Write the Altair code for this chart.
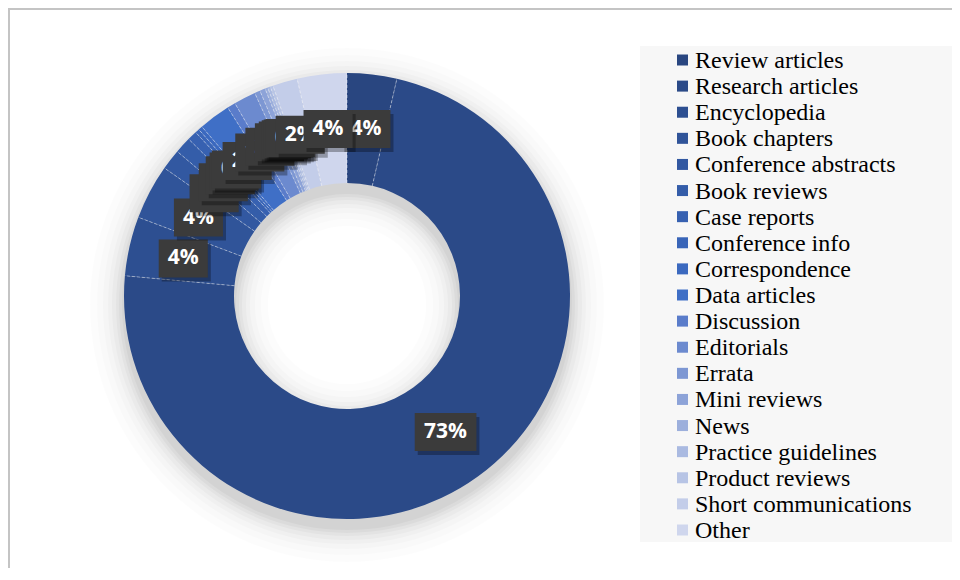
import altair as alt
import pandas as pd

categories = [
    "Review articles", "Research articles", "Encyclopedia", "Book chapters",
    "Conference abstracts", "Book reviews", "Case reports", "Conference info",
    "Correspondence", "Data articles", "Discussion", "Editorials", "Errata",
    "Mini reviews", "News", "Practice guidelines", "Product reviews",
    "Short communications", "Other",
]
shares = [3.6, 73.0, 4.3, 4.0, 1.5, 1.2, 0.7, 0.3, 0.3, 2.3, 0.6, 1.6, 0.4,
          0.4, 0.2, 0.2, 0.2, 1.8, 3.6]
colors = [
    "#294680", "#2b4a88", "#2d4f91", "#305499", "#3258a1", "#345da9",
    "#3761b1", "#3965b8", "#3b69bf", "#3f6fc6", "#5a7cca", "#6c8acf",
    "#7d97d3", "#8da3d8", "#9cafdc", "#aabae1", "#b7c4e5", "#c3cde9", "#cfd6ed",
]

W, H = 944, 560
CX, CY = 339, 288
R_OUT, R_IN, R_LAB = 223, 113, 168
TWO_PI = 6.283185307179586
SERIF = "Liberation Serif, Times New Roman, DejaVu Serif, serif"

df = pd.DataFrame({"idx": list(range(len(categories))),
                   "category": categories, "share": shares})
one = pd.DataFrame({"a": [0]})

color_scale = alt.Scale(domain=categories, range=colors)

geo = (
    alt.Chart(df)
    .transform_window(cum="sum(share)", sort=[alt.SortField("idx")], frame=[None, 0])
    .transform_joinaggregate(total="sum(share)")
    .transform_calculate(
        a0=f"(datum.cum - datum.share) / datum.total * {TWO_PI}",
        a1=f"datum.cum / datum.total * {TWO_PI}",
        pct="format(datum.share / datum.total, '.0%')",
    )
    .transform_calculate(am="(datum.a0 + datum.a1) / 2")
    .transform_calculate(
        lx=f"{CX} + {R_LAB} * sin(datum.am)",
        ly=f"{CY} - {R_LAB} * cos(datum.am)",
        bw="12.6 * (length(datum.pct) - 1) + 19.5 + 17",
        sx0=f"{CX} + {R_IN} * sin(datum.a0)",
        sy0=f"{CY} - {R_IN} * cos(datum.a0)",
        sx1=f"{CX} + {R_OUT} * sin(datum.a0)",
        sy1=f"{CY} - {R_OUT} * cos(datum.a0)",
    )
    .transform_calculate(
        bx0="datum.lx - datum.bw / 2",
        bx1="datum.lx + datum.bw / 2",
        by0="datum.ly - 19",
        by1="datum.ly + 19",
        qx0="datum.lx - datum.bw / 2 + 3",
        qx1="datum.lx + datum.bw / 2 + 3",
        qy0="datum.ly - 15",
        qy1="datum.ly + 23",
    )
)

# frame
border_left = alt.Chart(one).mark_rule(color="#c4c4c4", strokeWidth=2).encode(
    x=alt.value(1), y=alt.value(0), y2=alt.value(H))
border_top = alt.Chart(one).mark_rule(color="#c4c4c4", strokeWidth=2).encode(
    x=alt.value(0), x2=alt.value(W), y=alt.value(1))

legend_bg = alt.Chart(one).mark_rect(color="#f7f7f7").encode(
    x=alt.value(632), x2=alt.value(W), y=alt.value(38), y2=alt.value(534))

# soft shadow around the ring
shadows = []
for k, op in [(2, 0.03), (5, 0.03), (8, 0.026), (12, 0.022), (16, 0.018),
              (21, 0.015), (27, 0.012), (34, 0.01)]:
    shadows.append(
        alt.Chart(one).mark_arc(theta=0, theta2=TWO_PI, radius=R_OUT + k,
                                radius2=max(R_IN - k, 0), color="black",
                                opacity=op)
        .encode(x=alt.value(CX), y=alt.value(CY + 9))
    )

arcs = alt.Chart(df).mark_arc(radius=R_OUT, radius2=R_IN).encode(
    theta=alt.Theta("share:Q", stack=True),
    order=alt.Order("idx:Q"),
    color=alt.Color("category:N", scale=color_scale, legend=None),
    x=alt.value(CX), y=alt.value(CY),
)

separators = geo.mark_rule(color="white", strokeDash=[3, 2], strokeWidth=0.8,
                           opacity=0.55).encode(
    x=alt.X("sx0:Q", scale=None), y=alt.Y("sy0:Q", scale=None),
    x2="sx1:Q", y2="sy1:Q",
)

# data labels: one box + text per category, in data order, so later labels cover earlier ones
label_layers = []
for i in range(len(categories)):
    g = geo.transform_filter(f"datum.idx == {i}")
    label_layers.append(
        g.mark_rect(color="black", opacity=0.3).encode(
            x=alt.X("qx0:Q", scale=None), x2="qx1:Q",
            y=alt.Y("qy0:Q", scale=None), y2="qy1:Q")
    )
    label_layers.append(
        g.mark_rect(color="#3b3b3b").encode(
            x=alt.X("bx0:Q", scale=None), x2="bx1:Q",
            y=alt.Y("by0:Q", scale=None), y2="by1:Q")
    )
    label_layers.append(
        g.mark_text(font="Open Sans", fontSize=21, fontWeight="bold",
                    color="white", align="center", baseline="middle").encode(
            x=alt.X("lx:Q", scale=None), y=alt.Y("ly:Q", scale=None),
            text="pct:N")
    )

leg_y = alt.Y("category:N", sort=categories,
              scale=alt.Scale(type="point", range=[52, 522], padding=0), axis=None)

legend_sw = alt.Chart(df).mark_square(size=121, opacity=1).encode(
    x=alt.value(674.5), y=leg_y,
    color=alt.Color("category:N", scale=color_scale, legend=None),
)
legend_tx = alt.Chart(df).mark_text(font=SERIF, fontSize=24,
                                    color="#000000", align="left",
                                    baseline="middle", dy=1).encode(
    x=alt.value(687), y=leg_y, text="category:N",
)

chart = alt.layer(
    border_left, border_top, legend_bg, *shadows, arcs, separators,
    *label_layers, legend_sw, legend_tx,
).resolve_scale(x="independent", y="independent").properties(
    width=W, height=H, autosize="none", padding=0, background="white",
).configure_view(stroke=None)

chart.save("out.html", embed_options={"renderer": "svg", "actions": False})
